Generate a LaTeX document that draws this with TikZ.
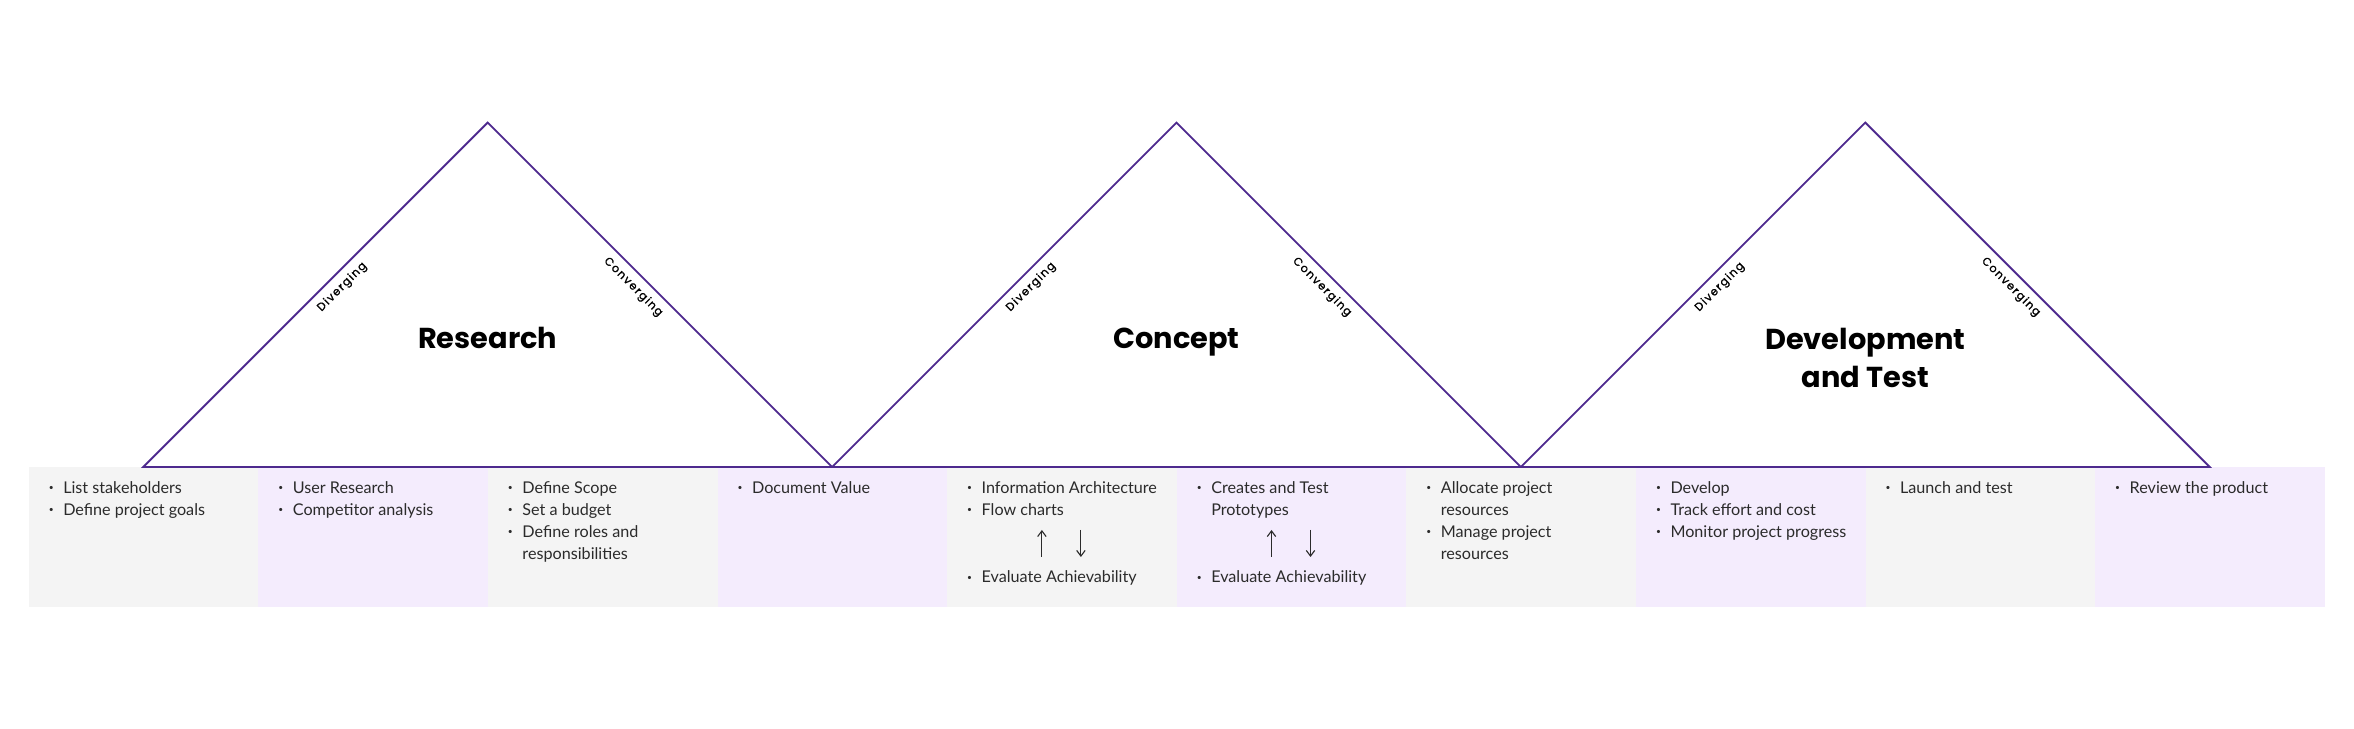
\documentclass[tikz,border=0pt]{standalone}
\usepackage{fontspec}
\setmainfont{Lato}
\newfontfamily\titlefont{Poppins}
\newfontfamily\sidefont[LetterSpace=12,FakeBold=1.2]{Poppins}
\usepackage{xcolor}
\usetikzlibrary{arrows.meta,positioning,calc}

\definecolor{linepurple}{HTML}{4E2A8E}
\definecolor{cellgray}{HTML}{F4F4F4}
\definecolor{celllav}{HTML}{F4ECFD}
\definecolor{txtgray}{HTML}{2B2B2B}

\newcommand{\bul}{\strut\makebox[0.3625cm][l]{\raisebox{0.3ex}{\fontsize{6}{6}\selectfont\textbullet}}}
\newcommand{\ind}{\hspace*{0.3625cm}}

\begin{document}
\begin{tikzpicture}[>={Straight Barb[length=4pt,width=6pt]},
  cell/.style={anchor=north west,inner sep=0,minimum width=5.74cm,minimum height=3.4875cm},
  items/.style={anchor=north west,inner sep=0,align=left,text=txtgray,font=\fontsize{11.5}{15.65}\selectfont},
  phase/.style={anchor=base,align=center,font=\titlefont\bfseries\fontsize{20.5}{27.5}\selectfont},
  side/.style={sloped,below=0.17cm,inner sep=0,font=\sidefont\fontsize{8}{8}\selectfont},
  tri/.style={draw=linepurple,line width=1.3pt},
  flow/.style={draw=txtgray,line width=0.8pt}]
\useasboundingbox (0,0) rectangle (58.85,18.225);

% cells under the triangles
\foreach \i/\c in {1/cellgray,2/celllav,3/cellgray,4/celllav,5/cellgray,6/celllav,7/cellgray,8/celllav,9/cellgray,10/celllav}
  \node[cell,fill=\c] (c\i) at ({0.7125+5.74*(\i-1)},6.55) {};

% the three triangles
\foreach \k/\p in {0/res,1/con,2/dev}{
  \coordinate (\p L) at ({3.5825+17.22*\k},6.55);
  \coordinate (\p A) at ({12.1925+17.22*\k},15.16);
  \coordinate (\p R) at ({20.8025+17.22*\k},6.55);
  \draw[tri] (\p L) -- node[side,pos=0.55]{Diverging} (\p A)
    -- node[side,pos=0.45]{Converging} (\p R) -- cycle;
}

\node[phase] (research) at (12.1925,9.5) {Research};
\node[phase] (concept) at (29.4125,9.5) {Concept};
\node[phase] (devtest) at (46.6325,8.525) {Development\\and Test};

% items
\node[items] (t1) at ($(c1.north west)+(0.5,-0.265)$) {\bul List stakeholders\\\bul Define project goals};
\node[items] (t2) at ($(c2.north west)+(0.5,-0.265)$) {\bul User Research\\\bul Competitor analysis};
\node[items] (t3) at ($(c3.north west)+(0.5,-0.265)$) {\bul Define Scope\\\bul Set a budget\\\bul Define roles and\\\ind responsibilities};
\node[items] (t4) at ($(c4.north west)+(0.5,-0.265)$) {\bul Document Value};
\node[items] (t5) at ($(c5.north west)+(0.5,-0.265)$) {\bul Information Architecture\\\bul Flow charts};
\node[items] (t6) at ($(c6.north west)+(0.5,-0.265)$) {\bul Creates and Test\\\ind Prototypes};
\node[items] (t7) at ($(c7.north west)+(0.5,-0.265)$) {\bul Allocate project\\\ind resources\\\bul Manage project\\\ind resources};
\node[items] (t8) at ($(c8.north west)+(0.5,-0.265)$) {\bul Develop\\\bul Track effort and cost\\\bul Monitor project progress};
\node[items] (t9) at ($(c9.north west)+(0.5,-0.265)$) {\bul Launch and test};
\node[items] (t10) at ($(c10.north west)+(0.5,-0.265)$) {\bul Review the product};

% back and forth
\foreach \i in {5,6}{
  \node[items,anchor=base west] (e\i) at ($(c\i.north west)+(0.5,-2.9)$) {\bul Evaluate Achievability};
  \coordinate (ua\i) at ($(c\i.north west)+(2.375,-2.25)$);
  \coordinate (ub\i) at ($(c\i.north west)+(2.375,-1.575)$);
  \coordinate (da\i) at ($(c\i.north west)+(3.35,-1.575)$);
  \coordinate (db\i) at ($(c\i.north west)+(3.35,-2.25)$);
  \draw[flow,->] (ua\i) -- (ub\i);
  \draw[flow,->] (da\i) -- (db\i);
}
\end{tikzpicture}
\end{document}
